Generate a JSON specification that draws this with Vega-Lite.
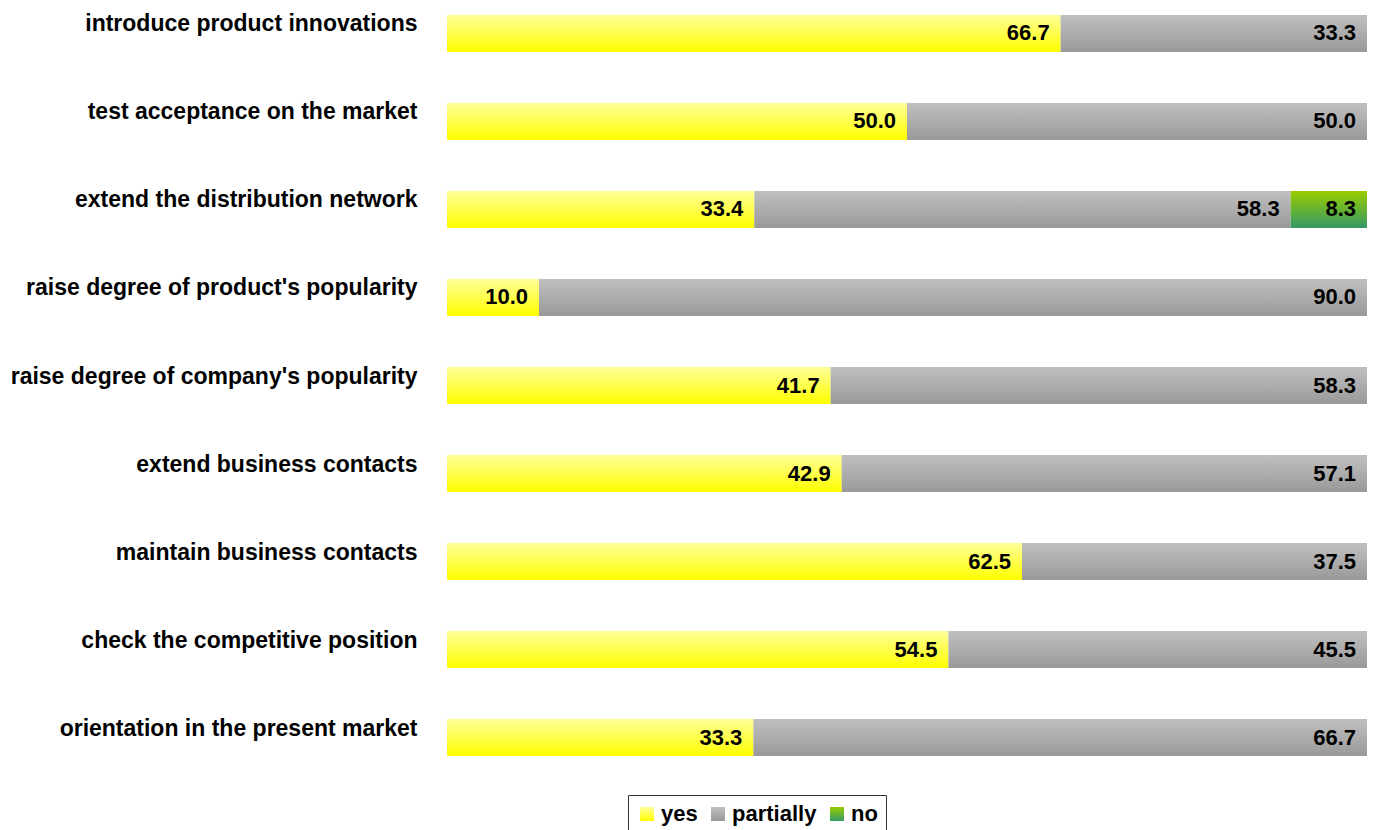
{
  "$schema": "https://vega.github.io/schema/vega-lite/v6.json",
  "width": 920,
  "height": 771,
  "autosize": {"type": "none"},
  "padding": {"left": 447, "top": 0, "right": 10, "bottom": 59},
  "background": "white",
  "config": {"view": {"stroke": null}, "font": "Liberation Sans"},
  "data": {
    "values": [
      {"item": "introduce product innovations", "cat": "yes", "pct": 66.7},
      {"item": "introduce product innovations", "cat": "partially", "pct": 33.3},
      {"item": "test acceptance on the market", "cat": "yes", "pct": 50.0},
      {"item": "test acceptance on the market", "cat": "partially", "pct": 50.0},
      {"item": "extend the distribution network", "cat": "yes", "pct": 33.4},
      {"item": "extend the distribution network", "cat": "partially", "pct": 58.3},
      {"item": "extend the distribution network", "cat": "no", "pct": 8.3},
      {"item": "raise degree of product's popularity", "cat": "yes", "pct": 10.0},
      {"item": "raise degree of product's popularity", "cat": "partially", "pct": 90.0},
      {"item": "raise degree of company's popularity", "cat": "yes", "pct": 41.7},
      {"item": "raise degree of company's popularity", "cat": "partially", "pct": 58.3},
      {"item": "extend business contacts", "cat": "yes", "pct": 42.9},
      {"item": "extend business contacts", "cat": "partially", "pct": 57.1},
      {"item": "maintain business contacts", "cat": "yes", "pct": 62.5},
      {"item": "maintain business contacts", "cat": "partially", "pct": 37.5},
      {"item": "check the competitive position", "cat": "yes", "pct": 54.5},
      {"item": "check the competitive position", "cat": "partially", "pct": 45.5},
      {"item": "orientation in the present market", "cat": "yes", "pct": 33.3},
      {"item": "orientation in the present market", "cat": "partially", "pct": 66.7}
    ]
  },
  "transform": [
    {"calculate": "indexof(['yes','partially','no'], datum.cat)", "as": "ord"}
  ],
  "encoding": {
    "y": {
      "field": "item",
      "type": "nominal",
      "sort": null,
      "scale": {"paddingInner": 0.58, "paddingOuter": 0.17},
      "axis": {
        "title": null,
        "domain": false,
        "ticks": false,
        "labelFontSize": 23,
        "labelFontWeight": "bold",
        "labelColor": "black",
        "labelPadding": 30,
        "labelOffset": -9,
        "labelLimit": 600
      }
    },
    "x": {
      "field": "pct",
      "type": "quantitative",
      "stack": "zero",
      "scale": {"domain": [0, 100], "nice": false},
      "axis": null
    },
    "order": {"field": "ord", "type": "quantitative"}
  },
  "layer": [
    {
      "mark": {"type": "bar"},
      "encoding": {
        "fill": {
          "field": "cat",
          "type": "nominal",
          "scale": {
            "domain": ["yes", "partially", "no"],
            "range": [
              {"expr": "{gradient: 'linear', x1: 0, y1: 0, x2: 0, y2: 1, stops: [{offset: 0, color: '#ffff99'}, {offset: 1, color: '#ffff00'}]}"},
              {"expr": "{gradient: 'linear', x1: 0, y1: 0, x2: 0, y2: 1, stops: [{offset: 0, color: '#c0c0c0'}, {offset: 1, color: '#999999'}]}"},
              {"expr": "{gradient: 'linear', x1: 0, y1: 0, x2: 0, y2: 1, stops: [{offset: 0, color: '#99cc00'}, {offset: 1, color: '#339966'}]}"}
            ]
          },
          "legend": {
            "title": null,
            "orient": "none",
            "legendX": 181,
            "legendY": 795,
            "direction": "horizontal",
            "symbolType": "square",
            "symbolSize": 196,
            "symbolStrokeWidth": 0,
            "labelFontSize": 22,
            "labelFontWeight": "bold",
            "labelColor": "black",
            "labelOffset": 3,
            "columnPadding": 9,
            "strokeColor": "#333333",
            "fillColor": "white",
            "padding": 8
          }
        }
      }
    },
    {
      "mark": {"type": "text", "align": "right", "baseline": "middle", "dx": -11, "fontSize": 22, "fontWeight": "bold", "color": "black"},
      "encoding": {
        "text": {"field": "pct", "type": "quantitative", "format": ".1f"}
      }
    }
  ]
}
